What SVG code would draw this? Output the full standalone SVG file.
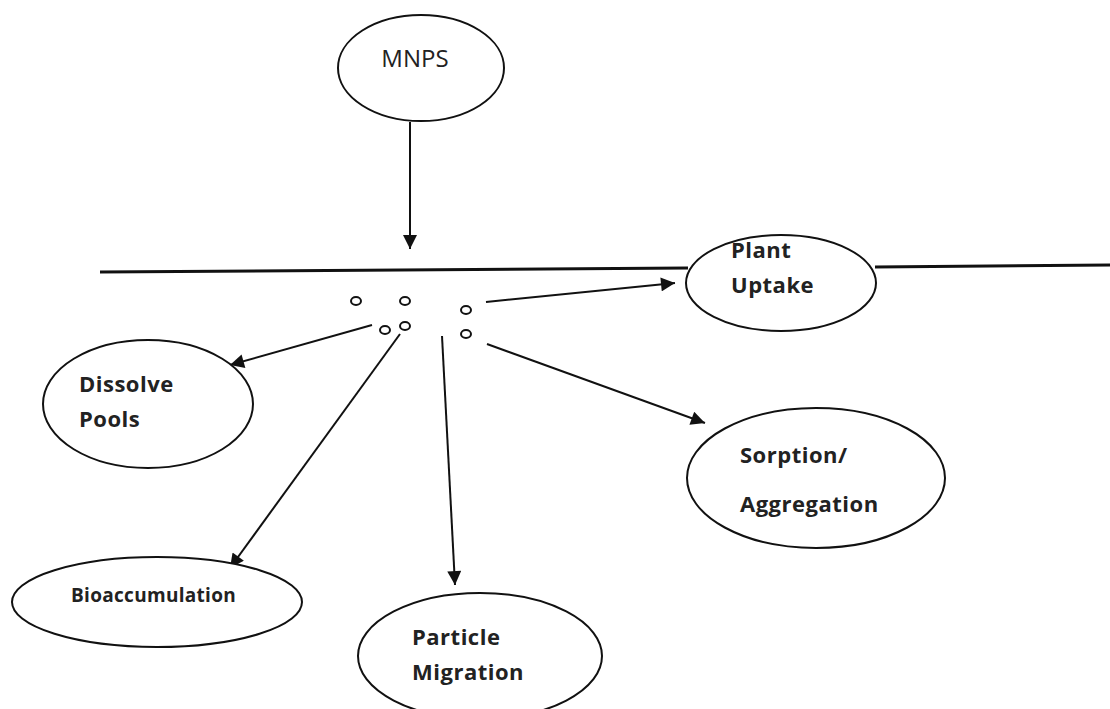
<svg xmlns="http://www.w3.org/2000/svg" width="1110" height="709" viewBox="0 0 1110 709">
<defs>
<marker id="ah" viewBox="0 0 10 10" refX="10" refY="5" markerWidth="18" markerHeight="14" markerUnits="userSpaceOnUse" orient="auto">
<path d="M0,0 L10,5 L0,10 Z" fill="#111"/>
</marker>
<style>
.node{fill:#fff;stroke:#111;stroke-width:2}
.lbl{font-family:"Open Sans","Liberation Sans",sans-serif;font-weight:bold;font-size:22px;letter-spacing:0.5px;fill:#222}
.reg{font-family:"Open Sans","Liberation Sans",sans-serif;font-size:24px;fill:#222}
.conn{stroke:#111;stroke-width:2;fill:none;marker-end:url(#ah)}
.dot{fill:#fff;stroke:#111;stroke-width:2}
</style>
</defs>
<rect width="1110" height="709" fill="#fff"/>
<g id="ground">
<path d="M100,272 L688,268" stroke="#111" stroke-width="3"/>
<path d="M875,267 L1110,265" stroke="#111" stroke-width="3"/>
</g>
<g id="particles">
<ellipse class="dot" cx="356" cy="301" rx="5" ry="4"/>
<ellipse class="dot" cx="405" cy="301" rx="5" ry="4"/>
<ellipse class="dot" cx="466" cy="310" rx="5" ry="4"/>
<ellipse class="dot" cx="385" cy="330" rx="5" ry="4"/>
<ellipse class="dot" cx="405" cy="326" rx="5" ry="4"/>
<ellipse class="dot" cx="466" cy="334" rx="5" ry="4"/>
</g>
<g id="connectors">
<path class="conn" d="M410,122 L410,249"/>
<path class="conn" d="M486,302 L675,283"/>
<path class="conn" d="M372,325 L230,365"/>
<path class="conn" d="M400,334 L230,568"/>
<path class="conn" d="M442,336 L455,585"/>
<path class="conn" d="M487,344 L705,423"/>
</g>
<g id="mnps">
<ellipse class="node" cx="421" cy="68" rx="83" ry="53"/>
<text class="reg" x="415" y="67" text-anchor="middle">MNPS</text>
</g>
<g id="plant-uptake">
<ellipse class="node" cx="781" cy="283" rx="95" ry="48"/>
<text class="lbl" x="731" y="258">Plant</text>
<text class="lbl" x="731" y="293">Uptake</text>
</g>
<g id="dissolve-pools">
<ellipse class="node" cx="148" cy="404" rx="105" ry="64"/>
<text class="lbl" x="79" y="392">Dissolve</text>
<text class="lbl" x="79" y="427">Pools</text>
</g>
<g id="sorption-aggregation">
<ellipse class="node" cx="816" cy="478" rx="129" ry="70"/>
<text class="lbl" x="740" y="463">Sorption/</text>
<text class="lbl" x="740" y="512">Aggregation</text>
</g>
<g id="bioaccumulation">
<ellipse class="node" cx="157" cy="602" rx="145" ry="45"/>
<text class="lbl" x="71" y="602" style="font-size:19px;letter-spacing:0.3px">Bioaccumulation</text>
</g>
<g id="particle-migration">
<ellipse class="node" cx="480" cy="656" rx="122" ry="63"/>
<text class="lbl" x="412" y="645">Particle</text>
<text class="lbl" x="412" y="680">Migration</text>
</g>
</svg>
